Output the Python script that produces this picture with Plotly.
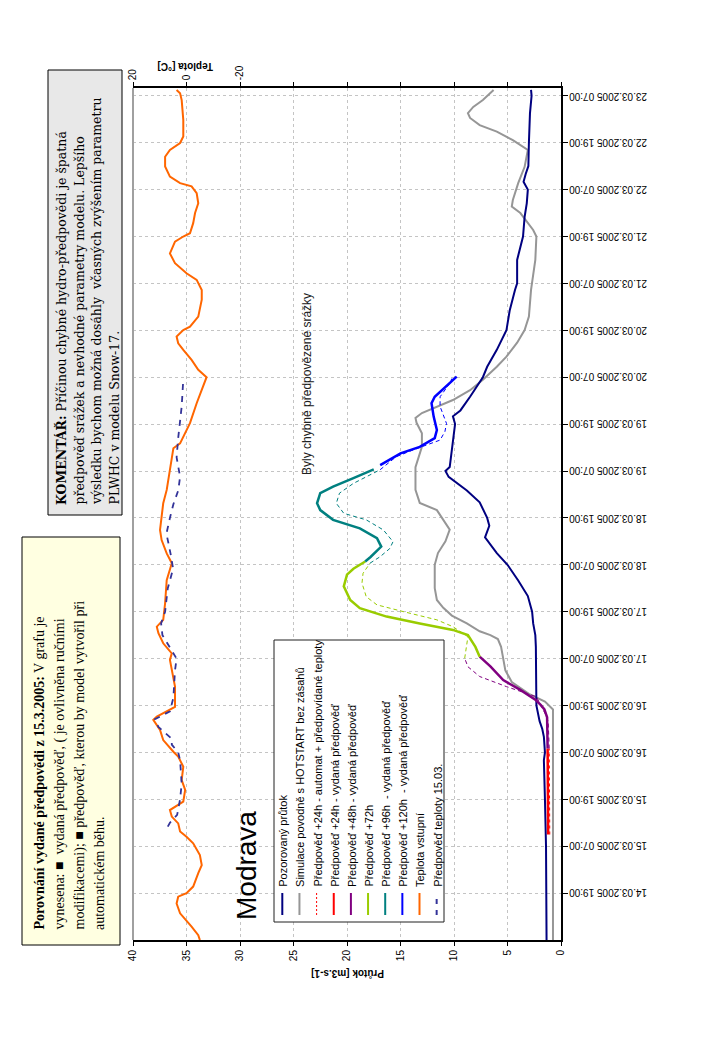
import plotly.graph_objects as go

# ---------------- data ----------------
obs_t = ["2005-03-14 07:00","2005-03-14 19:00","2005-03-15 07:00","2005-03-15 19:00","2005-03-16 05:00","2005-03-16 07:00",
         "2005-03-16 11:00","2005-03-16 13:00","2005-03-16 15:00","2005-03-16 19:00","2005-03-16 23:00","2005-03-17 07:00",
         "2005-03-17 10:00","2005-03-17 13:00","2005-03-17 16:00","2005-03-17 19:00","2005-03-17 23:00","2005-03-18 03:00",
         "2005-03-18 07:00","2005-03-18 10:00","2005-03-18 14:00","2005-03-18 17:00","2005-03-18 19:00","2005-03-18 23:00",
         "2005-03-19 02:00","2005-03-19 05:30","2005-03-19 07:00","2005-03-19 08:00","2005-03-19 13:00","2005-03-19 19:00",
         "2005-03-19 21:00","2005-03-19 22:30","2005-03-20 02:00","2005-03-20 04:30","2005-03-20 07:00","2005-03-20 09:40",
         "2005-03-20 14:00","2005-03-20 19:00","2005-03-21 00:00","2005-03-21 05:20","2005-03-21 07:00","2005-03-21 13:00",
         "2005-03-21 16:30","2005-03-21 19:00","2005-03-22 00:00","2005-03-22 03:30","2005-03-22 07:00","2005-03-22 09:00",
         "2005-03-22 11:00","2005-03-22 13:00","2005-03-22 19:00","2005-03-23 02:30","2005-03-23 07:00","2005-03-23 08:30"]
obs_q = [1.35,1.35,1.4,1.5,1.6,1.5,
         1.6,1.75,2.0,2.3,2.3,2.3,
         2.35,2.4,2.6,2.7,3.1,4.0,
         5.0,6.0,7.1,6.7,6.9,7.6,
         8.8,10.5,10.8,10.4,10.2,9.9,
         10.1,9.4,8.5,7.9,7.3,6.9,
         6.0,5.1,4.8,4.3,4.1,4.1,
         3.8,3.55,3.4,3.2,3.1,3.5,
         3.3,3.05,3.0,2.9,2.75,2.8]

sim_t = ["2005-03-14 07:00","2005-03-16 18:00","2005-03-16 20:00","2005-03-16 22:00","2005-03-17 01:00","2005-03-17 04:00",
         "2005-03-17 07:00","2005-03-17 10:00","2005-03-17 12:00","2005-03-17 13:00","2005-03-17 14:00","2005-03-17 16:00",
         "2005-03-17 18:00","2005-03-17 20:00","2005-03-17 22:00","2005-03-18 01:00","2005-03-18 07:00","2005-03-18 10:00",
         "2005-03-18 13:00","2005-03-18 16:00","2005-03-18 21:00","2005-03-18 22:50","2005-03-19 02:10","2005-03-19 08:00",
         "2005-03-19 13:10","2005-03-19 16:40","2005-03-19 19:20","2005-03-19 20:35","2005-03-19 21:50","2005-03-19 23:30",
         "2005-03-20 01:10","2005-03-20 03:40","2005-03-20 06:20","2005-03-20 09:40","2005-03-20 12:15","2005-03-20 15:50",
         "2005-03-20 19:05","2005-03-20 22:30","2005-03-21 05:20","2005-03-21 13:00","2005-03-21 19:00","2005-03-21 20:40",
         "2005-03-22 01:00","2005-03-22 02:40","2005-03-22 04:20","2005-03-22 08:40","2005-03-22 12:50","2005-03-22 17:10",
         "2005-03-22 19:40","2005-03-22 21:50","2005-03-22 23:30","2005-03-23 01:20","2005-03-23 02:35","2005-03-23 04:10",
         "2005-03-23 05:55","2005-03-23 08:30"]
sim_q = [0.75,0.75,1.5,3.0,4.6,5.2,
         5.4,5.6,5.9,6.6,7.6,8.8,
         10.2,11.0,11.6,11.8,11.8,11.5,
         10.8,10.4,11.6,13.2,13.6,13.6,
         13.0,13.0,13.5,13.6,13.0,11.6,
         10.1,8.5,7.3,6.0,5.1,4.1,
         3.4,3.0,2.8,2.4,2.3,2.6,
         3.8,4.6,4.5,4.0,3.4,3.1,
         4.5,6.0,7.6,8.5,8.7,8.2,
         7.3,6.3]

# issued forecasts (solid)
f24_t = ["2005-03-15 10:00","2005-03-16 08:00"]
f24_q = [1.2,1.25]
f48_t = ["2005-03-16 08:00","2005-03-16 16:00","2005-03-16 18:00","2005-03-16 19:10","2005-03-16 20:30","2005-03-16 23:00",
         "2005-03-17 01:30","2005-03-17 05:00","2005-03-17 07:30"]
f48_q = [1.25,1.3,1.55,1.9,2.4,3.8,5.4,6.6,7.6]
f72_t = ["2005-03-17 07:30","2005-03-17 10:00","2005-03-17 13:00","2005-03-17 14:20","2005-03-17 16:00","2005-03-17 17:45",
         "2005-03-17 19:55","2005-03-17 22:00","2005-03-18 01:30","2005-03-18 04:30","2005-03-18 06:00","2005-03-18 07:50"]
f72_q = [7.6,8.0,8.7,10.1,13.2,16.3,18.8,19.7,20.3,20.0,19.4,18.3]
f96_t = ["2005-03-18 07:50","2005-03-18 09:00","2005-03-18 11:40","2005-03-18 13:50","2005-03-18 16:20","2005-03-18 18:30",
         "2005-03-18 21:00","2005-03-18 22:45","2005-03-19 01:20","2005-03-19 03:00","2005-03-19 05:10","2005-03-19 07:25"]
f96_q = [18.3,17.8,16.8,17.2,18.8,21.3,22.5,22.8,22.5,21.3,19.4,17.5]
f120_t = ["2005-03-19 08:30","2005-03-19 11:30","2005-03-19 13:10","2005-03-19 15:25","2005-03-19 17:30","2005-03-19 20:55",
          "2005-03-20 00:20","2005-03-20 02:00","2005-03-20 07:10"]
f120_q = [16.9,15.0,13.2,11.8,11.6,11.9,12.1,11.8,9.75]

# automatic forecasts (thin dashed)
a24_t = ["2005-03-15 10:00","2005-03-16 08:00"]
a24_q = [1.05,1.1]
a48_t = ["2005-03-16 08:00","2005-03-16 15:00","2005-03-16 17:00","2005-03-16 21:15","2005-03-16 23:50","2005-03-17 02:25",
         "2005-03-17 04:55","2005-03-17 07:05"]
a48_q = [1.1,1.2,1.5,2.3,5.1,7.6,8.7,9.0]
a72_t = ["2005-03-17 07:05","2005-03-17 12:35","2005-03-17 15:10","2005-03-17 16:55","2005-03-17 19:00","2005-03-17 20:45",
         "2005-03-17 22:50","2005-03-18 02:20","2005-03-18 04:50","2005-03-18 07:25"]
a72_q = [9.0,8.7,10.1,11.6,14.7,17.2,18.2,18.6,18.5,17.85]
a96_t = ["2005-03-18 07:25","2005-03-18 09:05","2005-03-18 11:10","2005-03-18 12:55","2005-03-18 15:55","2005-03-18 18:30",
         "2005-03-18 20:10","2005-03-18 22:45","2005-03-19 01:20","2005-03-19 03:50","2005-03-19 07:20"]
a96_q = [17.85,16.9,16.0,15.7,16.6,18.2,20.3,21.0,20.7,19.4,16.9]
a120_t = ["2005-03-19 07:20","2005-03-19 10:40","2005-03-19 12:25","2005-03-19 14:55","2005-03-19 17:05","2005-03-19 19:10",
          "2005-03-19 23:30","2005-03-20 02:00","2005-03-20 05:25","2005-03-20 06:40"]
a120_q = [16.9,15.4,13.8,11.3,10.85,10.7,11.3,11.3,10.4,10.2]

# temperature (input)
tmp_t = ["2005-03-14 07:00","2005-03-14 08:15","2005-03-14 10:25","2005-03-14 13:50","2005-03-14 16:20","2005-03-14 18:05",
         "2005-03-14 19:00","2005-03-14 20:40","2005-03-15 00:05","2005-03-15 02:10","2005-03-15 04:45","2005-03-15 07:45",
         "2005-03-15 09:25","2005-03-15 10:45","2005-03-15 12:50","2005-03-15 14:35","2005-03-15 16:15","2005-03-15 17:05",
         "2005-03-15 18:25","2005-03-15 21:25","2005-03-15 23:55","2005-03-16 03:20","2005-03-16 05:55","2005-03-16 07:10",
         "2005-03-16 10:10","2005-03-16 12:45","2005-03-16 15:20","2005-03-16 16:10","2005-03-16 18:40","2005-03-16 23:50",
         "2005-03-17 02:20","2005-03-17 06:40","2005-03-17 08:20","2005-03-17 10:55","2005-03-17 13:30","2005-03-17 15:10",
         "2005-03-17 16:55","2005-03-17 21:10","2005-03-18 03:05","2005-03-18 07:25","2005-03-18 09:55","2005-03-18 13:20",
         "2005-03-18 15:55","2005-03-18 17:35","2005-03-18 22:45","2005-03-19 02:10","2005-03-19 07:15","2005-03-19 12:50",
         "2005-03-19 14:05","2005-03-19 19:15","2005-03-20 00:20","2005-03-20 06:20","2005-03-20 07:00","2005-03-20 08:55",
         "2005-03-20 11:25","2005-03-20 14:00","2005-03-20 15:40","2005-03-20 17:25","2005-03-20 19:05","2005-03-20 19:55",
         "2005-03-20 22:30","2005-03-21 02:50","2005-03-21 05:20","2005-03-21 07:55","2005-03-21 09:35","2005-03-21 12:10",
         "2005-03-21 14:40","2005-03-21 17:40","2005-03-21 19:00","2005-03-21 19:50","2005-03-21 22:25","2005-03-22 01:00",
         "2005-03-22 03:30","2005-03-22 06:05","2005-03-22 07:50","2005-03-22 08:40","2005-03-22 10:20","2005-03-22 12:55",
         "2005-03-22 15:25","2005-03-22 17:10","2005-03-22 18:55","2005-03-22 20:35","2005-03-23 00:50","2005-03-23 05:55",
         "2005-03-23 07:40","2005-03-23 08:30"]
tmp_v = [-5.0,-4.4,-1.9,2.4,3.7,3.1,
         0.0,-2.5,-4.4,-5.7,-5.0,-2.5,
         0.0,2.4,3.1,5.5,6.2,4.3,
         1.2,0.5,1.8,1.2,3.1,4.9,
         8.7,9.9,12.4,11.1,4.3,4.3,
         4.9,6.2,5.5,8.7,10.5,11.1,
         8.7,8.0,7.4,5.5,7.4,9.3,
         9.9,9.6,8.7,7.4,6.2,4.9,
         2.4,-1.3,-3.8,-6.9,-7.5,-4.4,
         -1.9,1.2,3.1,3.7,1.2,-1.3,
         -4.4,-5.7,-5.7,-3.8,0.0,4.3,
         6.2,4.3,1.2,-1.3,-2.5,-3.2,
         -4.4,-3.8,-1.9,2.4,6.2,8.0,
         8.0,6.2,2.4,1.2,1.2,1.8,
         2.4,3.7]

# temperature forecast issued 15.03.
tfc_t = ["2005-03-15 12:00","2005-03-15 13:00","2005-03-15 15:00","2005-03-15 19:00","2005-03-15 23:00","2005-03-16 05:00",
         "2005-03-16 07:00","2005-03-16 09:00","2005-03-16 10:30","2005-03-16 13:30","2005-03-16 15:30","2005-03-16 17:30",
         "2005-03-16 21:00","2005-03-17 04:00","2005-03-17 07:00","2005-03-17 10:00","2005-03-17 13:00","2005-03-17 16:00",
         "2005-03-17 19:00","2005-03-18 01:00","2005-03-18 06:00","2005-03-18 10:00","2005-03-18 15:00","2005-03-18 19:00",
         "2005-03-18 22:30","2005-03-19 02:00","2005-03-19 05:30","2005-03-19 10:30","2005-03-19 15:30","2005-03-19 23:30",
         "2005-03-20 06:30"]
tfc_v = [7.0,6.2,3.5,2.4,1.8,2.4,
         3.1,5.5,5.5,10.5,11.8,6.2,
         4.9,4.3,3.7,6.5,9.0,9.5,
         8.0,7.0,5.0,6.0,7.5,6.2,
         4.9,3.1,2.4,3.7,3.1,1.8,
         1.2]

date_ticks = ["2005-03-14 19:00","2005-03-15 07:00","2005-03-15 19:00","2005-03-16 07:00","2005-03-16 19:00",
              "2005-03-17 07:00","2005-03-17 19:00","2005-03-18 07:00","2005-03-18 19:00","2005-03-19 07:00",
              "2005-03-19 19:00","2005-03-20 07:00","2005-03-20 19:00","2005-03-21 07:00","2005-03-21 19:00",
              "2005-03-22 07:00","2005-03-22 19:00","2005-03-23 07:00"]
date_labels = ["14.03.2005 19:00","15.03.2005 07:00","15.03.2005 19:00","16.03.2005 07:00","16.03.2005 19:00",
               "17.03.2005 07:00","17.03.2005 19:00","18.03.2005 07:00","18.03.2005 19:00","19.03.2005 07:00",
               "19.03.2005 19:00","20.03.2005 07:00","20.03.2005 19:00","21.03.2005 07:00","21.03.2005 19:00",
               "22.03.2005 07:00","22.03.2005 19:00","23.03.2005 07:00"]
q_ticks = [0, 5, 10, 15, 20, 25, 30, 35, 40]
t_ticks = [20, 0, -20, -40, -60, -80, -100, -120, -140]
t_labels = ["20", "0", "-20", "", "", "", "", "", ""]

legend_names = ["Pozorovaný průtok", "Simulace povodně s HOTSTART bez zásahů",
                "Předpověď +24h - automat + předpovídané teploty", "Předpověď +24h - vydaná předpověď",
                "Předpověď +48h - vydaná předpověď", "Předpověď +72h", "Předpověď +96h  - vydaná předpověď",
                "Předpověď +120h  - vydaná předpověď", "Teplota vstupní", "Předpověď teploty 15.03."]

# ---------------- styles ----------------
C_OBS, C_SIM = "#000080", "#969696"
C24, C48, C72, C96, C120 = "#ff0000", "#800080", "#99cc00", "#008080", "#0000ff"
C_TMP, C_TFC = "#ff6600", "#333399"
FONT = "Liberation Sans, Arial, sans-serif"
SERIF = "Liberation Serif, Times New Roman, serif"
SERIF2 = "DejaVu Serif, serif"
GRID = "#c4c4c4"

W, H = 720, 1040
OFF = 8                      # page body margin: screen = figure + 8
L, R, T, B = 133, 561, 88, 940   # plot area in screen pixels
def px(x):
    return (x - L) / (R - L)
def py(y):
    return (B - y) / (B - T)

fig = go.Figure()

def add(xv, yv, color, width, dash="solid", axis="x"):
    fig.add_trace(go.Scatter(x=xv, y=yv, mode="lines", xaxis=axis, yaxis="y",
                             line=dict(color=color, width=width, dash=dash),
                             hoverinfo="skip", showlegend=False))

add(tmp_v, tmp_t, C_TMP, 2, axis="x2")
add(tfc_v, tfc_t, C_TFC, 1.8, dash="6px,6px", axis="x2")
add(sim_q, sim_t, C_SIM, 2)
add(a24_q, a24_t, C24, 1, "3px,3px")
add(obs_q, obs_t, C_OBS, 2)
add(a48_q, a48_t, C48, 1, "4px,3px")
add(a72_q, a72_t, C72, 1, "4px,3px")
add(a96_q, a96_t, C96, 1, "4px,3px")
add(a120_q, a120_t, C120, 1, "4px,3px")
add(f24_q, f24_t, C24, 2.5)
add(f48_q, f48_t, C48, 2.5)
add(f72_q, f72_t, C72, 2.5)
add(f96_q, f96_t, C96, 2.5)
add(f120_q, f120_t, C120, 2.5)

fig.update_layout(
    width=W, height=H,
    margin=dict(l=L - OFF, r=W - R + OFF, t=T - OFF, b=H - B + OFF, pad=0, autoexpand=False),
    paper_bgcolor="white", plot_bgcolor="white",
    showlegend=False,
    font=dict(family=FONT, size=10, color="black"),
    xaxis=dict(range=[40, 0], tickvals=q_ticks, tickangle=-90, ticks="outside", ticklen=4,
               tickcolor="black", showline=True, linecolor="black", linewidth=2, automargin=False,
               showgrid=True, gridcolor=GRID, griddash="3px,3px", gridwidth=1, zeroline=False,
               tickfont=dict(family=FONT, size=10)),
    xaxis2=dict(range=[20, -140], overlaying="x", side="top", tickvals=t_ticks, ticktext=t_labels,
                tickangle=-90, ticks="outside", ticklen=4, tickcolor="black", showline=True, automargin=False,
                linecolor="black", linewidth=1.5, showgrid=False, zeroline=False,
                tickfont=dict(family=FONT, size=10)),
    yaxis=dict(type="date", range=["2005-03-14 07:00", "2005-03-23 09:00"], side="right",
               tickvals=date_ticks, showticklabels=False, ticks="outside", ticklen=5, automargin=False,
               tickcolor="black", showline=True, linecolor="black", linewidth=2,
               showgrid=True, gridcolor=GRID, griddash="3px,3px", gridwidth=1, zeroline=False),
)

shapes = []
shapes.append(dict(type="line", xref="paper", yref="paper", x0=0, x1=0, y0=0, y1=1,
                   line=dict(color="#a0a0a0", width=2)))
# text box 1
shapes.append(dict(type="rect", xref="paper", yref="paper", x0=px(22), x1=px(120), y0=py(945), y1=py(537),
                   fillcolor="#ffffe1", line=dict(color="black", width=1)))
# text box 2
shapes.append(dict(type="rect", xref="paper", yref="paper", x0=px(48), x1=px(122), y0=py(515), y1=py(70),
                   fillcolor="#e8e8e8", line=dict(color="black", width=1)))
# legend box
shapes.append(dict(type="rect", xref="paper", yref="paper", x0=px(274), x1=px(444), y0=py(922), y1=py(640),
                   fillcolor="white", line=dict(color="#202020", width=1), layer="above"))
leg_styles = [(C_OBS, 2, "solid"), (C_SIM, 2, "solid"), (C24, 1, "2px,2px"), (C24, 2, "solid"),
              (C48, 2, "solid"), (C72, 2, "solid"), (C96, 2, "solid"), (C120, 2, "solid"),
              (C_TMP, 2, "solid"), (C_TFC, 2, "5px,6px")]
annotations = []
for i, (name, (col, wd, ds)) in enumerate(zip(legend_names, leg_styles)):
    lx = 282.3 + 17.15 * i
    shapes.append(dict(type="line", xref="paper", yref="paper", x0=px(lx), x1=px(lx), y0=py(915), y1=py(893),
                       line=dict(color=col, width=wd, dash=ds), layer="above"))
    annotations.append(dict(xref="paper", yref="paper", x=px(lx + 0.5), y=py(889), text=name, showarrow=False,
                            textangle=-90, xanchor="center", yanchor="bottom",
                            font=dict(family=FONT, size=11, color="black")))

# date tick labels (upside-down, as in the rotated original)
for d, lab in zip(date_ticks, date_labels):
    annotations.append(dict(xref="paper", yref="y", x=px(567), y=d, text=lab, showarrow=False,
                            textangle=180, xanchor="left", yanchor="middle",
                            font=dict(family=FONT, size=10, color="black")))

box1 = ["<b>Porovnání vydané předpovědi z 15.3.2005:</b> V grafu je",
        "vynesena: ■  vydaná předpověď, ( je ovlivněna ručními",
        "modifikacemi); ■ předpověď, kterou by model vytvořil při",
        "automatickém běhu."]
for i, s in enumerate(box1):
    annotations.append(dict(xref="paper", yref="paper", x=px(39 + 20 * i), y=py(932), text=s, showarrow=False,
                            textangle=-90, xanchor="center", yanchor="bottom",
                            font=dict(family=SERIF, size=14, color="black")))
box2 = ["<b>KOMENTÁŘ:</b> Příčinou chybné hydro-předpovědi je špatná",
        "předpověď srážek a nevhodné parametry modelu. Lepšího",
        "výsledku bychom možná dosáhly  včasných zvýšením parametru",
        "PLWHC v modelu Snow-17."]
for i, s in enumerate(box2):
    annotations.append(dict(xref="paper", yref="paper", x=px(61 + 17.5 * i), y=py(507), text=s, showarrow=False,
                            textangle=-90, xanchor="center", yanchor="bottom",
                            font=dict(family=SERIF2, size=12.5, color="black")))

annotations.append(dict(xref="paper", yref="paper", x=px(246), y=py(866), text="Modrava", showarrow=False,
                        textangle=-90, xanchor="center", yanchor="middle",
                        font=dict(family=FONT, size=28, color="black")))
annotations.append(dict(xref="paper", yref="paper", x=px(307), y=py(477), text="Byly chybně předpovězené srážky",
                        showarrow=False, textangle=-90, xanchor="center", yanchor="bottom",
                        font=dict(family=FONT, size=12, color="#202020")))
annotations.append(dict(xref="paper", yref="paper", x=px(348), y=py(974), text="<b>Průtok [m3.s-1]</b>",
                        showarrow=False, textangle=180, xanchor="center", yanchor="middle",
                        font=dict(family=FONT, size=10, color="black")))
annotations.append(dict(xref="paper", yref="paper", x=px(186), y=py(66), text="<b>Teplota [°C]</b>",
                        showarrow=False, textangle=180, xanchor="center", yanchor="middle",
                        font=dict(family=FONT, size=10, color="black")))

fig.update_layout(shapes=shapes, annotations=annotations)
fig.write_html("out.html")
